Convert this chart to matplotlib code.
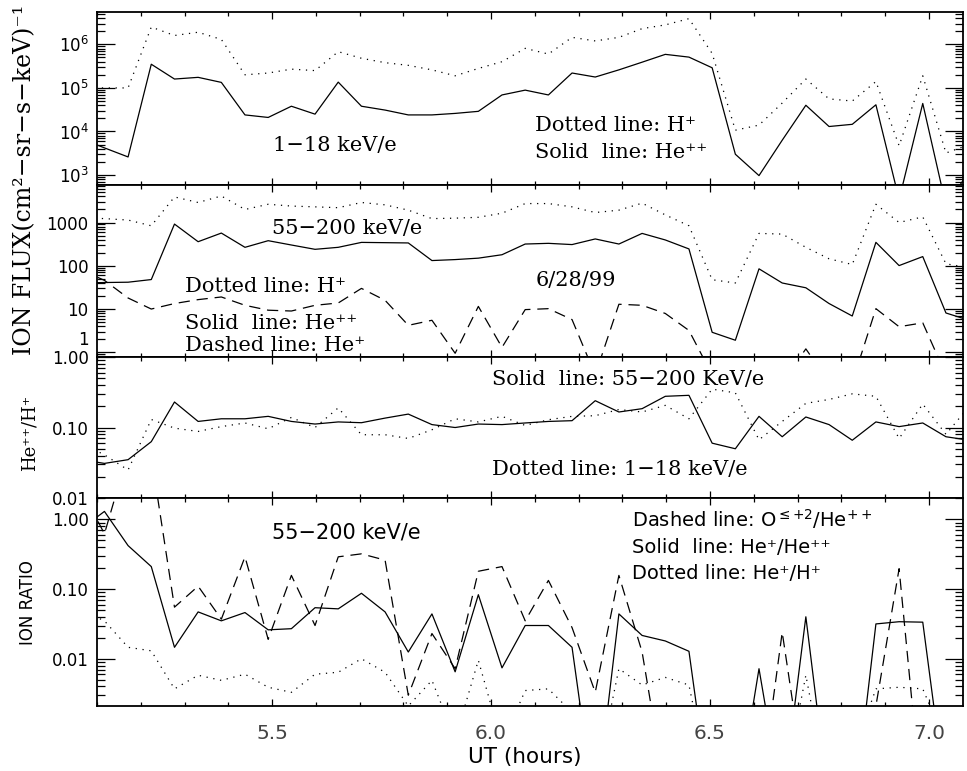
import numpy as np
import matplotlib
matplotlib.use("Agg")
import matplotlib.pyplot as plt
from matplotlib.transforms import ScaledTranslation
from matplotlib.ticker import LogLocator, FixedLocator, FixedFormatter, NullFormatter, MultipleLocator

# UT sample times (hours), one sample every ~3.2 min
ut = [5.064, 5.117, 5.171, 5.224, 5.277, 5.331, 5.384, 5.438, 5.491, 5.544,
      5.598, 5.651, 5.704, 5.758, 5.811, 5.865, 5.918, 5.971, 6.025, 6.078,
      6.131, 6.185, 6.238, 6.292, 6.345, 6.398, 6.452, 6.505, 6.558, 6.612,
      6.665, 6.719, 6.772, 6.825, 6.879, 6.932, 6.986, 7.039, 7.092]

# panel 1: 1-18 keV/e flux
low_h = [1.0e5, 1.0e5, 1.0e5, 2.5e6, 1.6e6, 1.9e6, 1.3e6, 2.0e5, 2.2e5, 2.7e5,
         2.5e5, 6.8e5, 4.8e5, 3.8e5, 3.3e5, 2.6e5, 1.9e5, 2.8e5, 4.0e5, 8.1e5,
         6.0e5, 1.45e6, 1.2e6, 1.45e6, 2.3e6, 2.8e6, 3.9e6, 6.2e5, 1.07e4, 1.4e4,
         4.5e4, 1.6e5, 5.6e4, 5.0e4, 1.4e5, 4.7e3, 1.9e5, 3.2e3, 5.0e3]
low_he2 = [6.8e3, 4.2e3, 2.6e3, 3.5e5, 1.6e5, 1.75e5, 1.34e5, 2.4e4, 2.1e4, 3.8e4,
           2.5e4, 1.36e5, 3.8e4, 3.1e4, 2.4e4, 2.4e4, 2.6e4, 2.9e4, 6.9e4, 8.9e4,
           6.9e4, 2.2e5, 1.78e5, 2.6e5, 3.9e5, 5.9e5, 5.1e5, 2.9e5, 3.0e3, 970,
           6.3e3, 4.0e4, 1.3e4, 1.46e4, 4.1e4, 275, 4.4e4, 200, 1.2e3]

# panel 2: 55-200 keV/e flux
hi_h = [1300, 1230, 1140, 840, 3900, 2900, 4100, 2000, 2640, 2400,
        2300, 2200, 2900, 2560, 1930, 1230, 1260, 1320, 1640, 2740,
        2740, 2300, 1700, 1930, 2800, 1500, 840, 47.6, 40, 560,
        540, 267, 145, 107, 2640, 1000, 1350, 111, 90]
hi_he2 = [40, 41, 41.7, 48, 920, 360, 570, 267, 380, 302,
          240, 267, 347, 342, 337, 132, 139, 150, 180, 318,
          330, 309, 417, 318, 560, 395, 245, 2.9, 1.9, 85,
          40, 31, 13.4, 6.9, 348, 101, 163, 8.1, 5.5]
hi_he1 = [80, 46, 18, 10, 13.4, 16.5, 19, 12.2, 9.4, 9.0,
          12.2, 13.8, 30, 15.9, 4.2, 5.5, 0.95, 11.5, 1.3, 9.7,
          10.2, 5.7, 0.3, 12.9, 12.2, 7.9, 3.2, 0.3, 0.1, 0.1,
          0.2, 1.2, 0.2, 0.2, 10.2, 3.9, 4.8, 0.3, 0.1]

# panel 3: He++/H+
ratio_hi = [0.035, 0.031, 0.035, 0.063, 0.23, 0.122, 0.133, 0.133, 0.144, 0.122,
            0.112, 0.12, 0.117, 0.136, 0.155, 0.11, 0.1, 0.112, 0.11, 0.116,
            0.122, 0.125, 0.24, 0.166, 0.185, 0.277, 0.286, 0.06, 0.05, 0.144,
            0.074, 0.141, 0.11, 0.066, 0.12, 0.103, 0.116, 0.074, 0.066]
ratio_low = [0.06, 0.041, 0.025, 0.13, 0.098, 0.088, 0.103, 0.116, 0.096, 0.139,
             0.1, 0.19, 0.079, 0.079, 0.07, 0.093, 0.133, 0.12, 0.144, 0.107,
             0.129, 0.144, 0.147, 0.18, 0.166, 0.206, 0.133, 0.35, 0.31, 0.067,
             0.122, 0.22, 0.25, 0.30, 0.277, 0.07, 0.215, 0.08, 0.2]

# panel 4: 55-200 keV/e ion ratios
o_he2 = [2.7, 0.62, 9, 8, 0.055, 0.11, 0.037, 0.29, 0.019, 0.157,
         0.030, 0.29, 0.32, 0.26, 0.003, 0.023, 0.0072, 0.18, 0.21, 0.035,
         0.133, 0.028, 0.0033, 0.157, 0.0125, 1.3e-4, 1e-4, 1e-4, 1e-4, 8e-5,
         0.024, 1.3e-4, 1e-4, 1e-4, 0.0021, 0.196, 6e-5, 1e-4, 1e-4]
he1_he2 = [0.73, 1.3, 0.42, 0.21, 0.0146, 0.047, 0.035, 0.046, 0.026, 0.027,
           0.054, 0.052, 0.087, 0.047, 0.0125, 0.044, 0.0065, 0.083, 0.0074, 0.030,
           0.030, 0.0146, 6e-5, 0.044, 0.0216, 0.018, 0.0128, 5e-5, 6e-5, 0.0072,
           8e-5, 0.04, 8e-5, 4e-5, 0.0316, 0.034, 0.0335, 1e-4, 1e-4]
he1_h = [0.05, 0.035, 0.0146, 0.013, 0.0037, 0.0058, 0.0049, 0.006, 0.0039, 0.0033,
         0.006, 0.0064, 0.01, 0.0064, 0.0021, 0.0049, 7e-4, 0.0095, 6e-4, 0.0035,
         0.0037, 0.0017, 1.6e-4, 0.0072, 0.0042, 0.0054, 0.0042, 1e-4, 1e-4, 1e-4,
         1e-4, 0.0058, 1e-4, 4e-4, 0.0037, 0.0039, 0.0037, 6e-4, 1e-4]

SERIF = "DejaVu Serif"
SANS = "DejaVu Sans"
DOT = (0, (1, 4.5))
DASH = (0, (9, 5.5))
LW = 0.9


def style_axis(ax, ylim, yticks, ylabels, show_x=False):
    ax.set_yscale("log")
    ax.set_xlim(5.10, 7.078)
    ax.set_ylim(*ylim)
    ax.xaxis.set_major_locator(MultipleLocator(0.5))
    ax.xaxis.set_minor_locator(MultipleLocator(0.1))
    ax.yaxis.set_major_locator(FixedLocator(yticks))
    ax.yaxis.set_major_formatter(FixedFormatter(ylabels))
    ax.yaxis.set_minor_locator(LogLocator(base=10, subs=range(2, 10), numticks=20))
    ax.yaxis.set_minor_formatter(NullFormatter())
    ax.tick_params(which="both", direction="in", top=True, right=True, width=0.9)
    ax.tick_params(axis="y", which="major", length=13, labelsize=12, pad=6)
    ax.tick_params(axis="y", which="minor", length=6)
    ax.tick_params(axis="x", which="major", length=5)
    ax.tick_params(axis="x", which="minor", length=3)
    for lab in ax.get_yticklabels():
        lab.set_family(SANS)
    if show_x:
        ax.tick_params(axis="x", labelsize=14.5, pad=13, labelcolor="#444444")
    else:
        ax.tick_params(axis="x", labelbottom=False)
    for sp in ax.spines.values():
        sp.set_linewidth(1.3)


fig = plt.figure(figsize=(9.67, 7.71), dpi=100)
left, width = 0.1003, 0.8956
ax1 = fig.add_axes([left, 0.760, width, 0.2248])
ax2 = fig.add_axes([left, 0.537, width, 0.223])
ax3 = fig.add_axes([left, 0.354, width, 0.183])
ax4 = fig.add_axes([left, 0.0843, width, 0.2697])

# panel 1
ax1.plot(ut, low_h, color="black", lw=LW, linestyle=DOT)
ax1.plot(ut, low_he2, color="black", lw=LW)
style_axis(ax1, (10**2.77, 10**6.75), [1e3, 1e4, 1e5, 1e6],
           [r"$\mathdefault{10^{3}}$", r"$\mathdefault{10^{4}}$",
            r"$\mathdefault{10^{5}}$", r"$\mathdefault{10^{6}}$"])
ax1.text(0.203, 0.231, "1−18 keV/e", transform=ax1.transAxes, family=SERIF, fontsize=15, va="center")
ax1.text(0.506, 0.346, "Dotted line: H⁺", transform=ax1.transAxes, family=SERIF, fontsize=15, va="center")
ax1.text(0.506, 0.185, "Solid  line: He⁺⁺", transform=ax1.transAxes, family=SERIF, fontsize=15, va="center")

# panel 2
ax2.plot(ut, hi_h, color="black", lw=LW, linestyle=DOT)
ax2.plot(ut, hi_he2, color="black", lw=LW)
ax2.plot(ut, hi_he1, color="black", lw=LW, linestyle=DASH)
style_axis(ax2, (10**-0.108, 10**3.866), [1, 10, 100, 1000], ["1", "10", "100", "1000"])
# the "1" sits just above the panel edge, clear of the "1.00" below
one_lab = ax2.get_yticklabels()[0]
one_lab.set_verticalalignment("bottom")
one_lab.set_transform(one_lab.get_transform() + ScaledTranslation(0, 2.5 / 72, fig.dpi_scale_trans))
ax2.text(0.202, 0.746, "55−200 keV/e", transform=ax2.transAxes, family=SERIF, fontsize=15, va="center")
ax2.text(0.1016, 0.41, "Dotted line: H⁺", transform=ax2.transAxes, family=SERIF, fontsize=15, va="center")
ax2.text(0.506, 0.445, "6/28/99", transform=ax2.transAxes, family=SERIF, fontsize=15, va="center")
ax2.text(0.1016, 0.197, "Solid  line: He⁺⁺", transform=ax2.transAxes, family=SERIF, fontsize=15, va="center")
ax2.text(0.1016, 0.064, "Dashed line: He⁺", transform=ax2.transAxes, family=SERIF, fontsize=15, va="center")

# panel 3
ax3.plot(ut, ratio_hi, color="black", lw=LW)
ax3.plot(ut, ratio_low, color="black", lw=LW, linestyle=DOT)
style_axis(ax3, (0.01, 1.0), [0.01, 0.1, 1.0], ["0.01", "0.10", "1.00"])
ax3.text(0.456, 0.843, "Solid  line: 55−200 KeV/e", transform=ax3.transAxes, family=SERIF, fontsize=15, va="center")
ax3.text(0.456, 0.2, "Dotted line: 1−18 keV/e", transform=ax3.transAxes, family=SERIF, fontsize=15, va="center")

# panel 4
ax4.plot(ut, o_he2, color="black", lw=LW, linestyle=DASH)
ax4.plot(ut, he1_he2, color="black", lw=LW)
ax4.plot(ut, he1_h, color="black", lw=LW, linestyle=DOT)
style_axis(ax4, (0.0021, 2.02), [0.01, 0.1, 1.0], ["0.01", "0.10", "1.00"], show_x=True)
ax4.text(0.202, 0.832, "55−200 keV/e", transform=ax4.transAxes, family=SANS, fontsize=15, va="center")
ax4.text(0.618, 0.899, r"Dashed line: O$^{\leq{+}2}$/He$^{++}$", transform=ax4.transAxes, family=SANS, fontsize=14, va="center")
ax4.text(0.618, 0.764, "Solid  line: He⁺/He⁺⁺", transform=ax4.transAxes, family=SANS, fontsize=14, va="center")
ax4.text(0.618, 0.635, "Dotted line: He⁺/H⁺", transform=ax4.transAxes, family=SANS, fontsize=14, va="center")

# axis titles
fig.text(0.026, 0.767, "ION FLUX(cm²−sr−s−keV)⁻¹", rotation=90, family=SERIF, fontsize=17, ha="center", va="center")
fig.text(0.031, 0.438, "He⁺⁺/H⁺", rotation=90, family=SERIF, fontsize=13, ha="center", va="center")
fig.text(0.029, 0.218, "ION RATIO", rotation=90, family=SANS, fontsize=12, ha="center", va="center")
fig.text(0.543, 0.018, "UT (hours)", family=SANS, fontsize=15.5, ha="center", va="center")

fig.savefig("out.png", dpi=100)
plt.close(fig)
